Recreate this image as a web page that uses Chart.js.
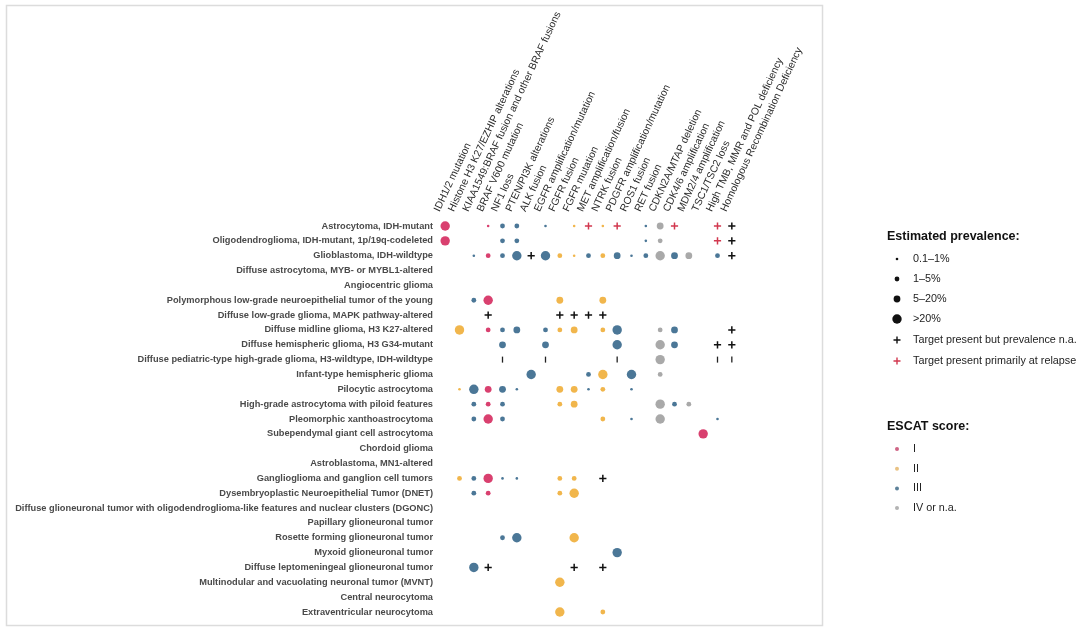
<!DOCTYPE html>
<html>
<head>
<meta charset="utf-8">
<script src="https://cdn.jsdelivr.net/npm/chart.js@4.4.1/dist/chart.umd.min.js"></script>
<style>
  html, body { margin: 0; padding: 0; background: #fff; }
  #wrap { width: 1080px; height: 631px; }
</style>
</head>
<body>
<div id="wrap"><canvas id="chart" width="1080" height="631"></canvas></div>
<script>
// ---------------------------
// Data
// ---------------------------
const tumors = [
  'Astrocytoma, IDH-mutant',
  'Oligodendroglioma, IDH-mutant, 1p/19q-codeleted',
  'Glioblastoma, IDH-wildtype',
  'Diffuse astrocytoma, MYB- or MYBL1-altered',
  'Angiocentric glioma',
  'Polymorphous low-grade neuroepithelial tumor of the young',
  'Diffuse low-grade glioma, MAPK pathway-altered',
  'Diffuse midline glioma, H3 K27-altered',
  'Diffuse hemispheric glioma, H3 G34-mutant',
  'Diffuse pediatric-type high-grade glioma, H3-wildtype, IDH-wildtype',
  'Infant-type hemispheric glioma',
  'Pilocytic astrocytoma',
  'High-grade astrocytoma with piloid features',
  'Pleomorphic xanthoastrocytoma',
  'Subependymal giant cell astrocytoma',
  'Chordoid glioma',
  'Astroblastoma, MN1-altered',
  'Ganglioglioma and ganglion cell tumors',
  'Dysembryoplastic Neuroepithelial Tumor (DNET)',
  'Diffuse glioneuronal tumor with oligodendroglioma-like features and nuclear clusters (DGONC)',
  'Papillary glioneuronal tumor',
  'Rosette forming glioneuronal tumor',
  'Myxoid glioneuronal tumor',
  'Diffuse leptomeningeal glioneuronal tumor',
  'Multinodular and vacuolating neuronal tumor (MVNT)',
  'Central neurocytoma',
  'Extraventricular neurocytoma'
];

const targets = [
  'IDH1/2 mutation',
  'Histone H3 K27/EZHIP alterations',
  'KIAA1549:BRAF fusion and other BRAF fusions',
  'BRAF V600 mutation',
  'NF1 loss',
  'PTEN/PI3K alterations',
  'ALK fusion',
  'EGFR amplification/mutation',
  'FGFR fusion',
  'FGFR mutation',
  'MET amplification/fusion',
  'NTRK fusion',
  'PDGFR amplification/mutation',
  'ROS1 fusion',
  'RET fusion',
  'CDKN2A/MTAP deletion',
  'CDK4/6 amplification',
  'MDM2/4 amplification',
  'TSC1/TSC2 loss',
  'High TMB, MMR and POL deficiency',
  'Homologous Recombination Deficiency'
];

// [tumor index, target index, prevalence class 1..4]
const escatI = [
  [0, 0, 4], [0, 3, 1], [1, 0, 4], [2, 3, 2], [5, 3, 4], [7, 3, 2],
  [11, 3, 3], [12, 3, 2], [13, 3, 4], [14, 18, 4], [17, 3, 4], [18, 3, 2]
];
const escatII = [
  [0, 9, 1], [0, 11, 1], [2, 8, 2], [2, 9, 1], [2, 11, 2], [5, 8, 3], [5, 11, 3],
  [7, 1, 4], [7, 8, 2], [7, 9, 3], [7, 11, 2], [10, 11, 4], [11, 1, 1], [11, 8, 3],
  [11, 9, 3], [11, 11, 2], [12, 8, 2], [12, 9, 3], [13, 11, 2], [17, 1, 2], [17, 8, 2],
  [17, 9, 2], [18, 8, 2], [18, 9, 4], [21, 9, 4], [24, 8, 4], [26, 8, 4], [26, 11, 2]
];
const escatIII = [
  [0, 4, 2], [0, 5, 2], [0, 7, 1], [0, 14, 1], [1, 4, 2], [1, 5, 2], [1, 14, 1],
  [2, 2, 1], [2, 4, 2], [2, 5, 4], [2, 7, 4], [2, 10, 2], [2, 12, 3], [2, 13, 1],
  [2, 14, 2], [2, 16, 3], [2, 19, 2], [5, 2, 2], [7, 4, 2], [7, 5, 3], [7, 7, 2],
  [7, 12, 4], [7, 16, 3], [8, 4, 3], [8, 7, 3], [8, 12, 4], [8, 16, 3], [10, 6, 4],
  [10, 10, 2], [10, 13, 4], [11, 2, 4], [11, 4, 3], [11, 5, 1], [11, 10, 1], [11, 13, 1],
  [12, 2, 2], [12, 4, 2], [12, 16, 2], [13, 2, 2], [13, 4, 2], [13, 13, 1], [13, 19, 1],
  [17, 2, 2], [17, 4, 1], [17, 5, 1], [18, 2, 2], [21, 4, 2], [21, 5, 4], [22, 12, 4],
  [23, 2, 4]
];
const escatIV = [
  [0, 15, 3], [1, 15, 2], [2, 15, 4], [2, 17, 3], [7, 15, 2], [8, 15, 4],
  [9, 15, 4], [10, 15, 2], [12, 15, 4], [12, 17, 2], [13, 15, 4]
];
// [tumor index, target index]
const presentNA = [
  [0, 20], [1, 20], [2, 6], [2, 20], [6, 3], [6, 8], [6, 9], [6, 10], [6, 11],
  [7, 20], [8, 19], [8, 20], [17, 11], [23, 3], [23, 9], [23, 11]
];
const presentRelapse = [[0, 10], [0, 12], [0, 16], [0, 19], [1, 19]];
const presentTick = [[9, 4], [9, 7], [9, 12], [9, 19], [9, 20]];

const prevalenceLabels = ['0.1\u20131%', '1\u20135%', '5\u201320%', '>20%'];
const presentLabels = ['Target present but prevalence n.a.', 'Target present primarily at relapse'];
const escatLabels = ['I', 'II', 'III', 'IV or n.a.'];

// ---------------------------
// Styles
// ---------------------------
const FONT = "'Liberation Sans', Arial, sans-serif";
const sizeRadius = [1.3, 2.4, 3.4, 4.7];
const escatColors = ['#d9406f', '#f1b64c', '#4b7797', '#a9a9a9'];
const escatLegendColors = ['#cf6485', '#e9c283', '#5d8199', '#b3b3b3'];
const relapseColor = '#d2384f';

const toBubbles = list => list.map(([t, g, p]) => ({ x: targets[g], y: tumors[t], r: sizeRadius[p - 1] }));
const toMarks = (list, r) => list.map(([t, g]) => ({ x: targets[g], y: tumors[t], r: r }));

const dotSet = (list, color) => ({
  data: toBubbles(list),
  backgroundColor: color,
  borderColor: color,
  borderWidth: 0,
  clip: false
});

// ---------------------------
// Plugins: frame + side legend
// ---------------------------
const framePlugin = {
  id: 'frame',
  beforeDraw(chart) {
    const ctx = chart.ctx;
    ctx.save();
    ctx.strokeStyle = '#dcdcdc';
    ctx.lineWidth = 1.5;
    ctx.strokeRect(6.5, 5.5, 816, 620);
    ctx.restore();
  }
};

const sideLegend = {
  id: 'sideLegend',
  afterDraw(chart) {
    const ctx = chart.ctx;
    const mx = 897, tx = 913;
    ctx.save();
    ctx.textBaseline = 'middle';
    ctx.textAlign = 'left';

    const cross = (x, y, color) => {
      ctx.strokeStyle = color;
      ctx.lineWidth = 1.4;
      ctx.beginPath();
      ctx.moveTo(x - 3.5, y); ctx.lineTo(x + 3.5, y);
      ctx.moveTo(x, y - 3.5); ctx.lineTo(x, y + 3.5);
      ctx.stroke();
    };

    ctx.fillStyle = '#111';
    ctx.font = 'bold 12.5px ' + FONT;
    ctx.fillText('Estimated prevalence:', 887, 237);

    ctx.font = '10.8px ' + FONT;
    prevalenceLabels.forEach((lab, i) => {
      const y = 259 + i * 20;
      ctx.fillStyle = '#111';
      ctx.beginPath();
      ctx.arc(mx, y, sizeRadius[i], 0, Math.PI * 2);
      ctx.fill();
      ctx.fillStyle = '#222';
      ctx.fillText(lab, tx, y);
    });

    presentLabels.forEach((lab, i) => {
      const y = 340 + i * 21;
      cross(mx, y, i === 0 ? '#111' : relapseColor);
      ctx.fillStyle = '#222';
      ctx.fillText(lab, tx, y);
    });

    ctx.fillStyle = '#111';
    ctx.font = 'bold 12.5px ' + FONT;
    ctx.fillText('ESCAT score:', 887, 427);

    ctx.font = '10.8px ' + FONT;
    escatLabels.forEach((lab, i) => {
      const y = 449 + i * 19.7;
      ctx.fillStyle = escatLegendColors[i];
      ctx.beginPath();
      ctx.arc(mx, y, 2, 0, Math.PI * 2);
      ctx.fill();
      ctx.fillStyle = '#222';
      ctx.fillText(lab, tx, y);
    });
    ctx.restore();
  }
};

// ---------------------------
// Chart
// ---------------------------
const ctx = document.getElementById('chart').getContext('2d');

new Chart(ctx, {
  type: 'bubble',
  data: {
    datasets: [
      dotSet(escatIV, escatColors[3]),
      dotSet(escatIII, escatColors[2]),
      dotSet(escatII, escatColors[1]),
      dotSet(escatI, escatColors[0]),
      {
        data: toMarks(presentNA, 3.6),
        pointStyle: 'cross',
        borderColor: '#111',
        backgroundColor: '#111',
        borderWidth: 1.5,
        clip: false
      },
      {
        data: toMarks(presentRelapse, 3.6),
        pointStyle: 'cross',
        borderColor: relapseColor,
        backgroundColor: relapseColor,
        borderWidth: 1.5,
        clip: false
      },
      {
        data: toMarks(presentTick, 3),
        pointStyle: 'line',
        rotation: 90,
        borderColor: '#222',
        backgroundColor: '#222',
        borderWidth: 1.3,
        clip: false
      }
    ]
  },
  options: {
    responsive: false,
    animation: false,
    events: [],
    layout: { padding: { left: 6, top: 6, right: 341, bottom: 11.6 } },
    plugins: {
      legend: { display: false },
      tooltip: { enabled: false }
    },
    scales: {
      x: {
        type: 'category',
        labels: targets,
        position: 'top',
        offset: true,
        grid: { display: false, drawTicks: false },
        border: { display: false },
        ticks: {
          autoSkip: false,
          minRotation: 65,
          maxRotation: 65,
          padding: 5,
          labelOffset: 3,
          color: '#2a2a2a',
          font: { family: FONT, size: 10.3 }
        },
        afterFit: scale => { scale.height = 212.6; }
      },
      y: {
        type: 'category',
        labels: tumors,
        offset: true,
        grid: { display: false, drawTicks: false },
        border: { display: false },
        ticks: {
          autoSkip: false,
          padding: 5,
          color: '#4a4a4a',
          font: { family: FONT, size: 9.25, weight: 'bold' }
        },
        afterFit: scale => { scale.width = 432; }
      }
    }
  },
  plugins: [framePlugin, sideLegend]
});
</script>
</body>
</html>
